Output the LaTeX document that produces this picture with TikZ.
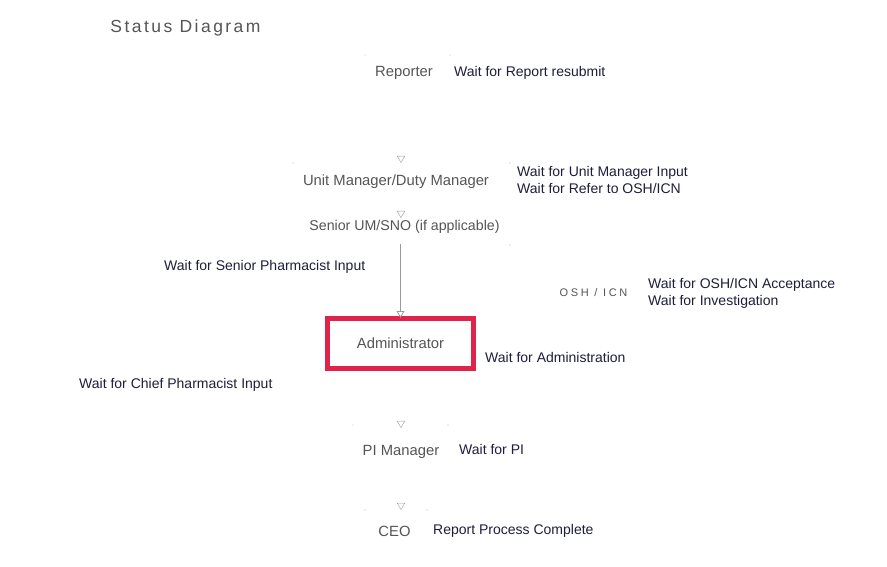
\documentclass[tikz,border=0pt]{standalone}
\usepackage{fontspec}
\setmainfont{Liberation Sans}
\newfontfamily\oshfont[LetterSpace=24]{Liberation Sans}
\newfontfamily\titlefont[LetterSpace=14]{Liberation Sans}
\usetikzlibrary{arrows.meta}
\definecolor{labelcol}{HTML}{1E1E3C}
\definecolor{nodecol}{HTML}{555555}
\definecolor{redbox}{HTML}{E0234A}
\definecolor{tipcol}{HTML}{9A9A9A}
\tikzset{
  statebox/.style={draw=none, inner sep=0pt, font=\fontsize{14.8}{16}\selectfont, text=nodecol},
  waitlabel/.style={anchor=west, inner sep=0pt, align=left, font=\fontsize{14}{17}\selectfont, text=labelcol},
  hiddenflow/.style={draw=white, -{Triangle[open, length=7pt, width=8pt, color=tipcol]}},
  shownflow/.style={draw=tipcol, line width=0.8pt, -{Triangle[open, length=7pt, width=8pt, color=tipcol]}},
  corner/.style={fill=tipcol!60, circle, inner sep=0pt, minimum size=1.2pt}
}
\begin{document}
\begin{tikzpicture}[x=1pt, y=-1pt]
\useasboundingbox[fill=white] (0,0) rectangle (887,567);

\node[inner sep=0pt, text=nodecol, font=\titlefont\fontsize{17.5}{19}\selectfont] (title) at (185.5,28) {Status Diagram};

% states
\node[statebox, minimum width=85pt, minimum height=37pt] (reporter) at (404,73) {Reporter};
\node[statebox, minimum width=217pt, minimum height=38pt] (um) at (396,182) {Unit Manager/Duty Manager};
\node[statebox, minimum width=200pt, minimum height=34pt, font=\fontsize{14.2}{16}\selectfont] (senior) at (404.5,227) {Senior UM/SNO (if applicable)};
\node[draw=redbox, line width=5pt, minimum width=146pt, minimum height=50pt, inner sep=0pt,
      font=\fontsize{14.8}{16}\selectfont, text=nodecol] (admin) at (400.5,343.5) {Administrator};
\node[inner sep=0pt, font=\oshfont\fontsize{11}{12}\selectfont, text=nodecol] (osh) at (593.5,293) {OSH / ICN};
\node[statebox, minimum width=95pt, minimum height=50pt] (pi) at (401,452) {PI Manager};
\node[statebox, minimum width=62pt, minimum height=40pt] (ceo) at (394.5,531) {CEO};

% faint corner marks
\node[corner] (c1) at (365,55) {};
\node[corner] (c2) at (450,55) {};
\node[corner] (c3) at (293,163) {};
\node[corner] (c4) at (510,163) {};
\node[corner] (c5) at (510,245) {};
\node[corner] (c6) at (353,425) {};
\node[corner] (c7) at (448,425) {};
\node[corner] (c8) at (365,510) {};
\node[corner] (c9) at (427,510) {};

% flows
\coordinate (umtop) at (401,163);
\coordinate (sentop) at (401,218);
\coordinate (pitop) at (401,428);
\coordinate (ceotop) at (401,510);
\draw[hiddenflow] (reporter.south -| umtop) -- (umtop);
\draw[hiddenflow] (um.south -| umtop) -- (sentop);
\draw[shownflow] (senior.south -| admin.north) -- ([yshift=-2pt]admin.north);
\draw[hiddenflow] (admin.south) -- (pitop);
\draw[hiddenflow] (pi.south -| ceotop) -- (ceotop);

% labels
\node[waitlabel] (l1) at (454,73) {Wait for Report resubmit};
\node[waitlabel] (l2) at (517,179.5) {Wait for Unit Manager Input\\Wait for Refer to OSH/ICN};
\node[waitlabel] (l3) at (164,267) {Wait for Senior Pharmacist Input};
\node[waitlabel] (l4) at (648,293.5) {Wait for OSH/ICN Acceptance\\Wait for Investigation};
\node[waitlabel] (l5) at (485,357) {Wait for Administration};
\node[waitlabel] (l6) at (79,385) {Wait for Chief Pharmacist Input};
\node[waitlabel] (l7) at (459,449) {Wait for PI};
\node[waitlabel] (l8) at (433,531) {Report Process Complete};
\end{tikzpicture}
\end{document}
